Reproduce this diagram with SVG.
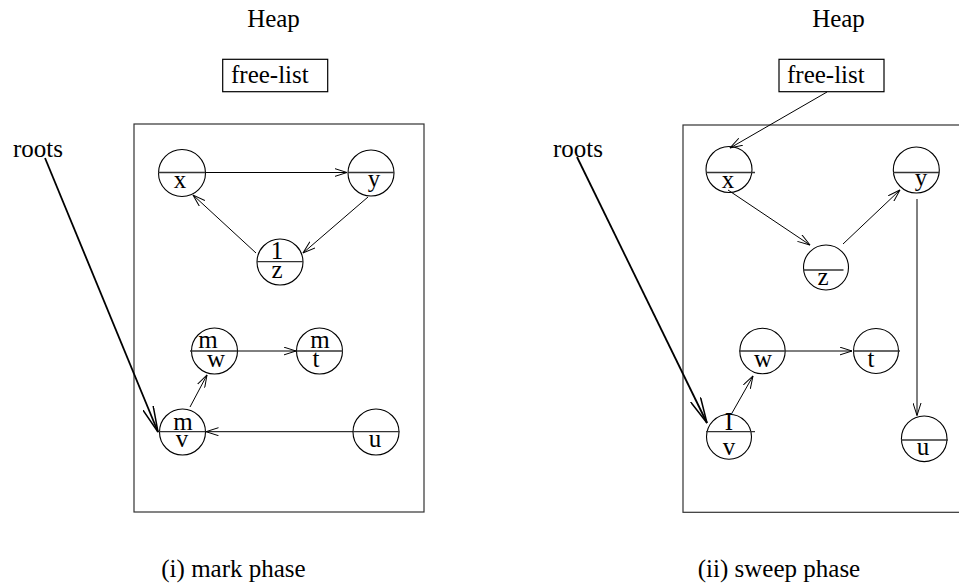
<svg xmlns="http://www.w3.org/2000/svg" width="959" height="587" viewBox="0 0 959 587">
<style>
text{font-family:"Liberation Serif","Times New Roman",serif;font-size:25px;fill:#000}
.m{text-anchor:middle}
.heap{fill:none;stroke:#333;stroke-width:1.2}
.box{fill:#fff;stroke:#000;stroke-width:1.2}
.node circle{fill:#fff;stroke:#000;stroke-width:1.1}
.node line{stroke:#333;stroke-width:1.3}
.c{stroke:#000;stroke-width:1;fill:none;marker-end:url(#a)}
.r{stroke:#000;stroke-width:1.8;fill:none;marker-end:url(#ra)}
</style>
<defs>
<marker id="a" markerUnits="userSpaceOnUse" viewBox="0 0 13 9" refX="12.5" refY="4.5" markerWidth="13" markerHeight="9" orient="auto">
<path d="M0,0.5 L12.5,4.5 L0,8.5" fill="none" stroke="#000" stroke-width="1"/>
</marker>
<marker id="ra" markerUnits="userSpaceOnUse" viewBox="0 0 27 12" refX="26" refY="6" markerWidth="27" markerHeight="12" orient="auto">
<path d="M0,0.5 L26,6 L0,11.5" fill="none" stroke="#000" stroke-width="1.5"/>
</marker>
</defs>

<!-- Left panel: mark phase -->
<g id="left-title"><text class="m" x="273.5" y="27">Heap</text></g>
<g id="left-freelist"><rect class="box" x="222.7" y="59.3" width="105" height="32.4"/><text x="231" y="83">free-list</text></g>
<g id="left-heap"><rect class="heap" x="134" y="124" width="290" height="388"/></g>
<g id="left-roots"><text x="13" y="157">roots</text></g>

<g id="L-x" class="node"><circle cx="182" cy="173" r="23.5"/><line x1="158" y1="172.5" x2="205.5" y2="172.5"/><text class="m" x="180" y="188">x</text></g>
<g id="L-y" class="node"><circle cx="371" cy="173" r="23"/><line x1="348" y1="172.5" x2="394" y2="172.5"/><text class="m" x="374" y="187">y</text></g>
<g id="L-z" class="node"><circle cx="280" cy="262" r="23"/><line x1="257" y1="261.7" x2="303" y2="261.7"/><text class="m" x="277" y="259">1</text><text class="m" x="277" y="278">z</text></g>
<g id="L-w" class="node"><circle cx="214.5" cy="351" r="23"/><line x1="190" y1="351" x2="237.5" y2="351"/><text class="m" x="208" y="348">m</text><text class="m" x="216" y="367">w</text></g>
<g id="L-t" class="node"><circle cx="319.5" cy="351" r="23"/><line x1="296.5" y1="351" x2="343" y2="351"/><text class="m" x="320" y="348">m</text><text class="m" x="316" y="367">t</text></g>
<g id="L-v" class="node"><circle cx="182.5" cy="432" r="23"/><line x1="158" y1="431.7" x2="205.5" y2="431.7"/><text class="m" x="183" y="430">m</text><text class="m" x="182" y="447">v</text></g>
<g id="L-u" class="node"><circle cx="376" cy="432" r="23"/><line x1="353" y1="431.7" x2="399.5" y2="431.7"/><text class="m" x="375" y="447">u</text></g>

<!-- Right panel: sweep phase -->
<g id="right-title"><text class="m" x="838.5" y="27">Heap</text></g>
<g id="right-freelist"><rect class="box" x="779" y="59.3" width="105" height="32.4"/><text x="787" y="83">free-list</text></g>
<g id="right-heap"><rect class="heap" x="683" y="125" width="300" height="387.3"/></g>
<g id="right-roots"><text x="553" y="157">roots</text></g>

<g id="R-x" class="node"><circle cx="729" cy="169.5" r="23"/><line x1="706" y1="172.5" x2="755" y2="172.5"/><text class="m" x="728" y="188">x</text></g>
<g id="R-y" class="node"><circle cx="916.3" cy="170" r="23"/><line x1="893" y1="172.5" x2="939.5" y2="172.5"/><text class="m" x="921" y="186">y</text></g>
<g id="R-z" class="node"><circle cx="826" cy="267.5" r="22.5"/><line x1="803" y1="270" x2="843.5" y2="270"/><text class="m" x="823" y="285">z</text></g>
<g id="R-w" class="node"><circle cx="762.5" cy="351" r="22.7"/><line x1="739" y1="351" x2="786.7" y2="351"/><text class="m" x="763" y="367">w</text></g>
<g id="R-t" class="node"><circle cx="876" cy="351" r="22.5"/><line x1="853" y1="351" x2="900" y2="351"/><text class="m" x="871" y="367">t</text></g>
<g id="R-v" class="node"><circle cx="729" cy="436.7" r="22.5"/><line x1="706" y1="431.7" x2="755" y2="431.7"/><text class="m" x="729" y="430">I</text><text class="m" x="729" y="455">v</text></g>
<g id="R-u" class="node"><circle cx="924.2" cy="438.8" r="22.8"/><line x1="901" y1="440" x2="948" y2="440"/><text class="m" x="923" y="455">u</text></g>

<g id="connectors">
<line class="c" x1="205.5" y1="172.5" x2="347" y2="172.5"/>
<line class="c" x1="368" y1="197" x2="303" y2="253"/>
<line class="c" x1="256" y1="253" x2="193" y2="195"/>
<line class="c" x1="237.5" y1="351" x2="296" y2="351"/>
<line class="c" x1="353" y1="431.7" x2="206" y2="431.7"/>
<line class="c" x1="190" y1="407" x2="207" y2="375"/>
<line class="r" x1="45" y1="158" x2="158" y2="432"/>

<line class="c" x1="827" y1="92" x2="730" y2="148"/>
<line class="c" x1="728" y1="190" x2="810" y2="245"/>
<line class="c" x1="843" y1="244" x2="900" y2="190"/>
<line class="c" x1="917" y1="199" x2="917" y2="415.5"/>
<line class="c" x1="786.7" y1="351" x2="852" y2="351"/>
<line class="c" x1="732" y1="413" x2="753" y2="376"/>
<line class="r" x1="577" y1="157" x2="707" y2="423"/>
</g>

<g id="captions">
<text class="m" x="233.5" y="577">(i) mark phase</text>
<text class="m" x="779" y="577">(ii) sweep phase</text>
</g>
</svg>
